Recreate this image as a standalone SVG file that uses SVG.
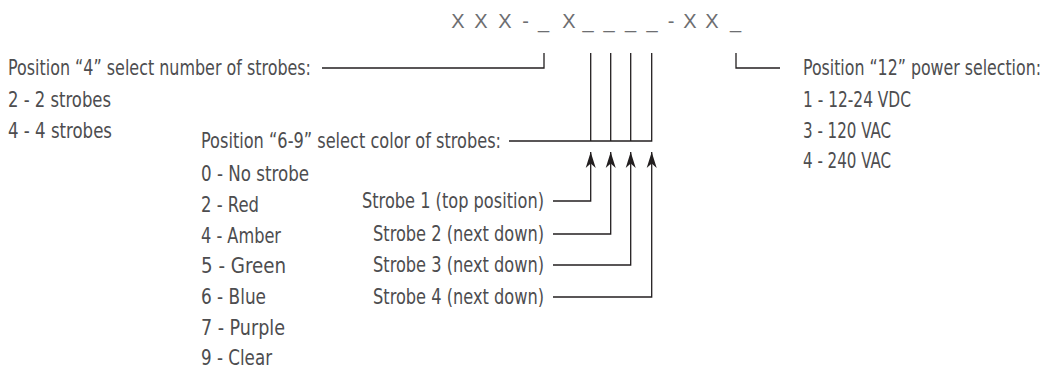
<svg xmlns="http://www.w3.org/2000/svg" width="1048" height="377" viewBox="0 0 1048 377">
  <defs>
    <style>
      .t { font-family: "Liberation Sans Narrow", "DejaVu Sans Condensed", "Liberation Sans", sans-serif; font-stretch: condensed; font-size: 21px; fill: #4d4d4f; }
      .h { font-family: "Liberation Sans", Arial, sans-serif; font-size: 20px; fill: #6d6e71; text-anchor: middle; }
      .ln { fill: none; stroke: #231f20; stroke-width: 1.3; }
    </style>
    <marker id="ah" markerUnits="userSpaceOnUse" markerWidth="18" markerHeight="12" viewBox="-16 -6 18 12" refX="0" refY="0" orient="auto">
      <path d="M0,0 L-16,-5 L-11.5,0 L-16,5 Z" fill="#231f20"/>
    </marker>
  </defs>
  <rect width="1048" height="377" fill="#ffffff"/>

  <g id="code">
    <text class="h" x="458" y="28">X</text>
    <text class="h" x="481" y="28">X</text>
    <text class="h" x="505" y="28">X</text>
    <text class="h" x="525.5" y="28">-</text>
    <text class="h" x="543.5" y="28">_</text>
    <text class="h" x="569" y="28">X</text>
    <text class="h" x="588" y="28">_</text>
    <text class="h" x="609" y="28">_</text>
    <text class="h" x="630.5" y="28">_</text>
    <text class="h" x="652" y="28">_</text>
    <text class="h" x="671" y="28">-</text>
    <text class="h" x="690" y="28">X</text>
    <text class="h" x="712" y="28">X</text>
    <text class="h" x="735.5" y="28">_</text>
  </g>

  <g id="connectors">
    <path class="ln" d="M322,68 H544 V53"/>
    <path class="ln" d="M736,53 V68 H780"/>
    <path class="ln" d="M509,141 H651.7 V53"/>
    <path class="ln" d="M590.7,53 V141"/>
    <path class="ln" d="M610.7,53 V141"/>
    <path class="ln" d="M630.7,53 V141"/>
    <path class="ln" d="M553,201 H590.7 V152" marker-end="url(#ah)"/>
    <path class="ln" d="M553,234 H610.7 V152" marker-end="url(#ah)"/>
    <path class="ln" d="M553,265 H630.7 V152" marker-end="url(#ah)"/>
    <path class="ln" d="M553,297 H651.7 V152" marker-end="url(#ah)"/>
  </g>

  <g id="position4">
    <text class="t" x="8" y="75" textLength="303" lengthAdjust="spacingAndGlyphs">Position “4” select number of strobes:</text>
    <text class="t" x="8" y="107" textLength="103" lengthAdjust="spacingAndGlyphs">2 - 2 strobes</text>
    <text class="t" x="8" y="138" textLength="104" lengthAdjust="spacingAndGlyphs">4 - 4 strobes</text>
  </g>

  <g id="position6-9">
    <text class="t" x="201" y="148" textLength="300" lengthAdjust="spacingAndGlyphs">Position “6-9” select color of strobes:</text>
    <text class="t" x="201" y="181" textLength="108" lengthAdjust="spacingAndGlyphs">0 - No strobe</text>
    <text class="t" x="201" y="212" textLength="58" lengthAdjust="spacingAndGlyphs">2 - Red</text>
    <text class="t" x="201" y="243" textLength="80" lengthAdjust="spacingAndGlyphs">4 - Amber</text>
    <text class="t" x="201" y="273" textLength="85" lengthAdjust="spacingAndGlyphs">5 - Green</text>
    <text class="t" x="201" y="304" textLength="65" lengthAdjust="spacingAndGlyphs">6 - Blue</text>
    <text class="t" x="201" y="335" textLength="84" lengthAdjust="spacingAndGlyphs">7 - Purple</text>
    <text class="t" x="201" y="365" textLength="71" lengthAdjust="spacingAndGlyphs">9 - Clear</text>
  </g>

  <g id="strobes">
    <text class="t" x="362" y="208" textLength="182" lengthAdjust="spacingAndGlyphs">Strobe 1 (top position)</text>
    <text class="t" x="373" y="241" textLength="171" lengthAdjust="spacingAndGlyphs">Strobe 2 (next down)</text>
    <text class="t" x="373" y="272" textLength="171" lengthAdjust="spacingAndGlyphs">Strobe 3 (next down)</text>
    <text class="t" x="373" y="304" textLength="171" lengthAdjust="spacingAndGlyphs">Strobe 4 (next down)</text>
  </g>

  <g id="position12">
    <text class="t" transform="translate(803,75) scale(1,1.17)" x="0" y="0" style="font-size:18px" textLength="238" lengthAdjust="spacingAndGlyphs">Position “12” power selection:</text>
    <text class="t" x="803" y="107" textLength="108" lengthAdjust="spacingAndGlyphs">1 - 12-24 VDC</text>
    <text class="t" x="803" y="138" textLength="88" lengthAdjust="spacingAndGlyphs">3 - 120 VAC</text>
    <text class="t" x="803" y="168" textLength="88" lengthAdjust="spacingAndGlyphs">4 - 240 VAC</text>
  </g>
</svg>
